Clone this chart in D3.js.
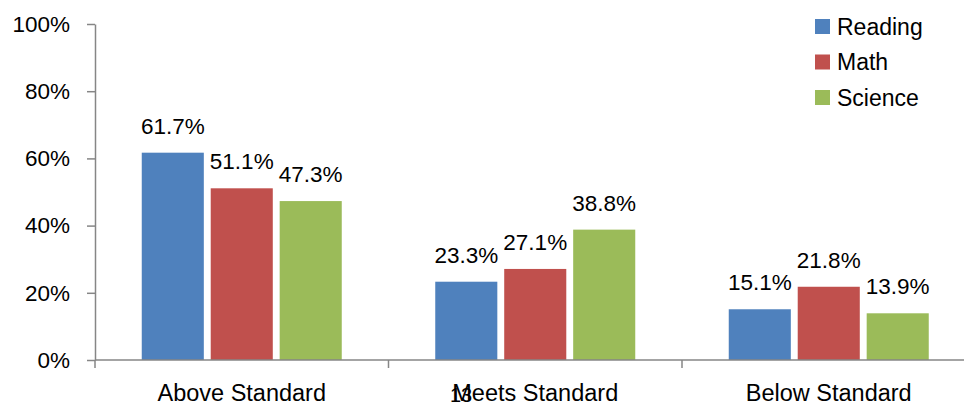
<!DOCTYPE html>
<html>
<head>
<meta charset="utf-8">
<script src="https://cdn.jsdelivr.net/npm/d3@7"></script>
<style>
  body { margin: 0; background: #fff; }
  text { font-family: "Liberation Sans", Arial, sans-serif; fill: #000; }
</style>
</head>
<body>
<script>
// chart data
var categories = ["Above Standard", "Meets Standard", "Below Standard"];
var series = ["Reading", "Math", "Science"];
var reading = [0.617, 0.233, 0.151];
var math = [0.511, 0.271, 0.218];
var science = [0.473, 0.388, 0.139];
var yTicks = [0, 0.2, 0.4, 0.6, 0.8, 1.0];
var colors = ["#4F81BD", "#C0504D", "#9BBB59"];

var values = [reading, math, science];

var width = 964, height = 407;
var plotLeft = 95, plotTop = 24, plotBottom = 360;
var band = 293.5;

var svg = d3.select("body").append("svg")
    .attr("width", width)
    .attr("height", height);

var y = d3.scaleLinear()
    .domain([0, 1])
    .range([plotBottom, plotTop]);

var x = d3.scaleBand()
    .domain(categories)
    .range([plotLeft, plotLeft + band * categories.length]);

// bars inside each group
var xSub = d3.scaleBand()
    .domain(series)
    .range([0, 200])
    .paddingInner(0.1);
var groupOffset = (x.bandwidth() - 200) / 2;

var fmt = d3.format(".1%");

var groups = svg.append("g")
    .selectAll("g")
    .data(categories)
    .enter().append("g")
    .attr("transform", d => "translate(" + (x(d) + groupOffset) + ",0)");

groups.selectAll("rect")
    .data((d, i) => series.map((s, j) => ({ s: s, v: values[j][i], j: j })))
    .enter().append("rect")
    .attr("x", d => xSub(d.s))
    .attr("y", d => y(d.v))
    .attr("width", xSub.bandwidth())
    .attr("height", d => plotBottom - y(d.v))
    .attr("fill", d => colors[d.j]);

groups.selectAll("text")
    .data((d, i) => series.map((s, j) => ({ s: s, v: values[j][i] })))
    .enter().append("text")
    .attr("x", d => xSub(d.s) + xSub.bandwidth() / 2)
    .attr("y", d => y(d.v) - 19)
    .attr("text-anchor", "middle")
    .style("font-size", "22.5px")
    .text(d => fmt(d.v));

// y axis
var yAxis = d3.axisLeft(y)
    .tickValues(yTicks)
    .tickFormat(d3.format(".0%"))
    .tickSize(8)
    .tickSizeOuter(0)
    .tickPadding(17);

var gy = svg.append("g")
    .attr("transform", "translate(" + plotLeft + ",0)")
    .call(yAxis);
gy.select(".domain").attr("stroke", "#868686").attr("stroke-width", 1.5);
gy.selectAll(".tick line").attr("stroke", "#868686").attr("stroke-width", 1.5);
gy.selectAll(".tick text")
    .style("font-size", "22.5px")
    .style("font-family", "'Liberation Sans', Arial, sans-serif")
    .attr("fill", "#000");

// x axis line and category ticks
svg.append("line")
    .attr("x1", plotLeft).attr("x2", width)
    .attr("y1", plotBottom).attr("y2", plotBottom)
    .attr("stroke", "#868686").attr("stroke-width", 1.5);

svg.append("g")
    .selectAll("line")
    .data(categories)
    .enter().append("line")
    .attr("x1", d => x(d)).attr("x2", d => x(d))
    .attr("y1", plotBottom).attr("y2", plotBottom + 8)
    .attr("stroke", "#868686").attr("stroke-width", 1.5);

svg.append("g")
    .selectAll("text")
    .data(categories)
    .enter().append("text")
    .attr("x", d => x(d) + x.bandwidth() / 2)
    .attr("y", 401)
    .attr("text-anchor", "middle")
    .style("font-size", "23.5px")
    .text(d => d);

// stray page number from the source document
svg.append("text")
    .attr("x", 461)
    .attr("y", 402)
    .attr("text-anchor", "middle")
    .style("font-size", "20px")
    .text("13");

// legend
var legend = svg.append("g")
    .selectAll("g")
    .data(series)
    .enter().append("g")
    .attr("transform", (d, i) => "translate(815," + (19 + i * 35.5) + ")");

legend.append("rect")
    .attr("width", 15)
    .attr("height", 15)
    .attr("fill", (d, i) => colors[i]);

legend.append("text")
    .attr("x", 22)
    .attr("y", 15.5)
    .style("font-size", "23px")
    .text(d => d);
</script>
</body>
</html>
